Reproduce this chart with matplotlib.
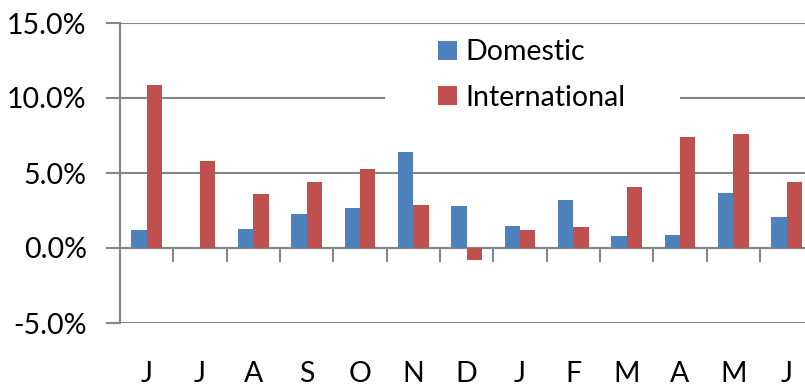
import matplotlib
matplotlib.use("Agg")
import matplotlib.pyplot as plt
from matplotlib.patches import Patch, Rectangle
from matplotlib.ticker import FuncFormatter

months = ["J", "J", "A", "S", "O", "N", "D", "J", "F", "M", "A", "M", "J"]
domestic = [1.2, 0.0, 1.3, 2.3, 2.7, 6.4, 2.8, 1.5, 3.2, 0.8, 0.9, 3.7, 2.1]
international = [10.9, 5.8, 3.6, 4.4, 5.3, 2.9, -0.8, 1.2, 1.4, 4.1, 7.4, 7.6, 4.4]
yticks = [-5.0, 0.0, 5.0, 10.0, 15.0]

BLUE = "#4F81BD"
RED = "#C0504D"
GRID = "#868686"
FONT = ["Lato", "DejaVu Sans"]
FS = 20.5

plt.rcParams['font.family'] = FONT

W, H = 805, 386
fig = plt.figure(figsize=(W / 100, H / 100), dpi=100)
ax = fig.add_axes([120 / W, 63 / H, 693.3 / W, 300 / H])

x = list(range(len(months)))
bw = 0.2875
ax.bar([i - bw / 2 for i in x], domestic, width=bw, color=BLUE,
       linewidth=0, zorder=3, label="Domestic")
ax.bar([i + bw / 2 for i in x], international, width=bw, color=RED,
       linewidth=0, zorder=3, label="International")

ax.set_xlim(-0.5, len(months) - 0.5)
ax.set_ylim(yticks[0], yticks[-1])
ax.set_yticks(yticks)
ax.yaxis.set_major_formatter(FuncFormatter(lambda v, p: f"{v:.1f}%"))
ax.yaxis.grid(True, color=GRID, linewidth=1.5, zorder=0)
ax.set_axisbelow(True)
ax.tick_params(axis="y", length=10, width=1.5, color=GRID, labelsize=FS, pad=14)

for s in ["top", "right", "bottom"]:
    ax.spines[s].set_visible(False)
ax.spines["left"].set_color(GRID)
ax.spines["left"].set_linewidth(1.5)

# category labels at bottom
ax.set_xticks(x)
ax.set_xticklabels(months, fontsize=FS)
ax.tick_params(axis="x", length=0, pad=27)

# zero axis with boundary ticks
sec = ax.secondary_xaxis((0 - yticks[0]) / (yticks[-1] - yticks[0]))
sec.set_xticks([i + 0.5 for i in x])
sec.set_xticklabels([])
sec.tick_params(axis="x", length=10, width=1.5, color=GRID)
sec.spines["bottom"].set_color(GRID)
sec.spines["bottom"].set_linewidth(1.5)

# legend background
ax.add_patch(Rectangle((385 / W, 1 - 32 / H), (680 - 385) / W, -(118 - 32) / H,
                       transform=fig.transFigure, facecolor="white",
                       edgecolor="none", zorder=4))
handles = [Patch(facecolor=BLUE), Patch(facecolor=RED)]
leg = ax.legend(handles, ["Domestic", "International"], loc="upper left",
                bbox_to_anchor=(438 / W, 1 - 39.5 / H), bbox_transform=fig.transFigure,
                frameon=False, fontsize=FS, handlelength=0.65, handleheight=0.65,
                handletextpad=0.3, labelspacing=0.68, borderpad=0, borderaxespad=0)
leg.set_zorder(5)

fig.savefig("out.png", dpi=100)
